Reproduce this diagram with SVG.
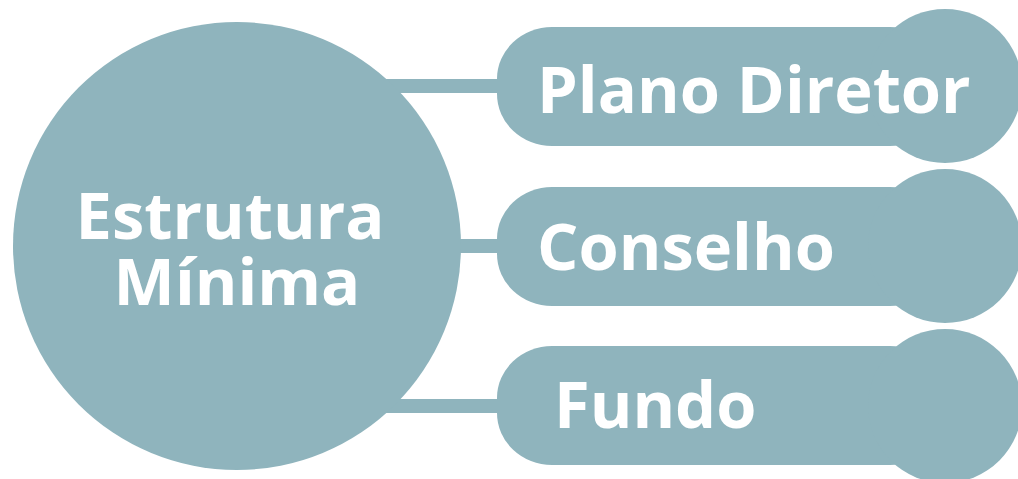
<svg xmlns="http://www.w3.org/2000/svg" width="1018" height="479" viewBox="0 0 1018 479">
<style>
.f{fill:#8fb4bd}
.c{stroke:#8fb4bd;stroke-width:14;fill:none}
.t{fill:#ffffff;font-family:"Open Sans","Noto Sans",sans-serif;font-weight:700;font-size:65px}
</style>
<rect width="1018" height="479" fill="#ffffff"/>
<g id="connectors">
<line class="c" x1="380" y1="86" x2="510" y2="86"/>
<line class="c" x1="440" y1="246" x2="510" y2="246"/>
<line class="c" x1="380" y1="406" x2="510" y2="406"/>
</g>
<g id="center">
<circle class="f" cx="237" cy="246" r="224"/>
<text class="t" x="230" y="239" text-anchor="middle">Estrutura</text>
<text class="t" x="237" y="305" text-anchor="middle">Mínima</text>
</g>
<g id="plano">
<rect class="f" x="497" y="27" width="448" height="119" rx="55" ry="52"/>
<circle class="f" cx="945" cy="86" r="77"/>
<text class="t" x="537" y="113">Plano Diretor</text>
</g>
<g id="conselho">
<rect class="f" x="497" y="187" width="448" height="119" rx="55" ry="52"/>
<circle class="f" cx="945" cy="246" r="77"/>
<text class="t" x="537" y="270">Conselho</text>
</g>
<g id="fundo">
<rect class="f" x="497" y="346" width="448" height="119" rx="55" ry="52"/>
<circle class="f" cx="945" cy="406" r="77"/>
<text class="t" x="554" y="428">Fundo</text>
</g>
</svg>
